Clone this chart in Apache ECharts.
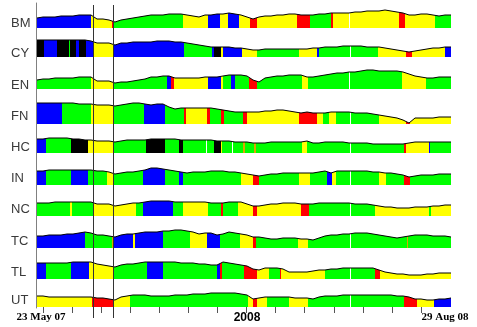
<!DOCTYPE html>
<html>
<head>
<meta charset="utf-8">
<script src="https://cdn.jsdelivr.net/npm/echarts@6/dist/echarts.min.js"></script>
<style>
  html, body { margin: 0; padding: 0; background: #fff; }
  #chart { width: 477px; height: 327px; }
</style>
</head>
<body>
<div id="chart"></div>
<script>
// rows, top to bottom
const rowNames = ['BM', 'CY', 'EN', 'FN', 'HC', 'IN', 'NC', 'TC', 'TL', 'UT'];

// sample index along the time axis (23 May 07 .. 29 Aug 08)
const sampleT = [0, 6, 12, 18, 24, 30, 36, 42, 48, 54, 60, 66, 72, 78, 84, 90, 96, 102, 108, 114,
  120, 126, 132, 138, 144, 150, 156, 162, 168, 174, 180, 186, 192, 198, 204, 210, 216, 222, 228, 234,
  240, 246, 252, 258, 264, 270, 276, 282, 288, 294, 300, 306, 312, 318, 324, 330, 336, 342, 348, 354,
  360, 366, 372, 378, 384, 390, 396, 402, 408, 414];

// level of each row (height of the black line above its band floor)
const levelBM = [10,11,11,11,12,12,12,13,13,13, 9,9,8,6,8,9,10,11,12,13, 13,13,14,14,14,13,12,11,13,13, 14,14,15,14,13,11,9,11,12,12, 13,13,14,14,13,13,13,14,14,15, 15,15,15,16,16,17,17,17,18,17, 16,15,13,13,14,14,13,12,13,13];
const levelCY = [17,17,17,17,17,17,17,17,17,16, 14,14,14,12,14,14,15,15,15,15, 16,16,16,15,15,14,13,12,11,10, 10,10,10,9,9,8,7,7,8,8, 8,8,8,8,8,8,9,9,10,10, 10,11,11,11,11,10,10,10,9,8, 7,6,5,6,7,8,9,9,10,10];
const levelEN = [9,10,10,11,11,11,11,12,12,12, 8,8,8,6,7,7,8,9,10,12, 12,13,13,11,11,11,11,11,12,12, 12,13,14,14,14,13,9,7,11,12, 13,13,14,14,14,12,12,13,14,15, 16,16,17,17,18,19,19,18,18,18, 18,17,15,13,12,11,11,12,12,12];
const levelFN = [21,21,21,21,21,21,21,20,20,20, 19,19,19,18,19,20,21,21,20,19, 20,20,17,15,16,16,16,16,16,16, 15,14,13,12,12,12,12,12,13,13, 14,14,13,12,11,12,11,11,11,12, 12,12,12,11,11,11,10,9,8,7, 6,4,1,6,6,6,6,7,7,7];
const levelHC = [14,14,15,15,15,15,14,14,13,13, 12,12,12,11,12,13,13,13,13,14, 14,14,14,14,13,13,13,13,13,13, 12,12,12,11,11,11,10,10,10,11, 11,11,11,11,11,12,10,10,11,11, 11,11,10,10,10,10,9,9,9,9, 9,9,10,11,11,11,11,11,11,11];
const levelIN = [14,14,15,15,15,15,15,15,15,15, 14,14,13,11,12,13,13,14,15,17, 17,16,15,14,13,12,13,13,13,14, 14,14,13,13,12,11,10,9,10,11, 11,12,12,12,12,12,12,13,14,12, 14,14,14,14,14,14,13,13,12,12, 11,10,8,9,10,10,10,11,11,11];
const levelNC = [13,13,13,14,14,14,14,14,14,14, 12,12,12,10,11,12,13,13,14,15, 15,15,15,14,14,14,14,14,14,13, 13,13,14,14,14,12,10,10,11,12, 12,13,13,13,12,12,12,13,13,13, 13,13,13,12,12,12,11,10,9,9, 8,8,8,9,9,9,10,10,11,11];
const levelTC = [12,12,13,13,13,14,14,15,16,15, 13,13,12,11,13,14,14,15,16,16, 16,17,17,18,18,17,16,14,15,15, 13,14,16,15,14,13,11,11,10,9, 9,10,10,10,9,9,8,10,12,13, 13,14,14,15,15,15,14,13,12,11, 10,11,12,13,13,13,12,12,12,11];
const levelTL = [16,16,16,16,16,16,17,17,17,17, 15,14,13,12,14,15,15,16,17,17, 17,17,17,17,16,16,16,15,15,14, 14,17,16,15,14,13,10,9,11,11, 11,10,7,7,7,7,8,9,9,10, 10,11,11,11,11,11,11,9,7,6, 5,5,4,4,4,5,5,6,6,6];
const levelUT = [11,11,10,10,10,10,10,10,10,10, 9,9,8,7,10,11,12,12,12,11, 11,11,11,12,12,12,13,13,13,14, 14,14,14,14,13,12,8,9,10,10, 10,10,10,9,9,9,8,10,11,11, 11,12,12,12,12,12,12,12,12,12, 11,11,10,8,8,7,7,8,8,9];

// state segments: [start index, state]; each runs to the next start
const segBM = [[0,'B'],[54,'Y'],[75,'R'],[77,'G'],[146,'Y'],[171,'B'],[183,'Y'],[191,'B'],[202,'Y'],[213,'R'],[220,'Y'],[260,'R'],[273,'G'],[294,'R'],[296,'Y'],[312,'W'],[313,'Y'],[362,'R'],[368,'Y'],[398,'G']];
const segCY = [[0,'K'],[7,'B'],[20,'K'],[32,'G'],[33,'K'],[39,'B'],[42,'K'],[49,'B'],[56,'Y'],[76,'B'],[147,'G'],[175,'B'],[177,'K'],[184,'Y'],[186,'B'],[205,'Y'],[220,'G'],[262,'Y'],[280,'B'],[282,'G'],[313,'W'],[314,'G'],[341,'Y'],[369,'R'],[375,'Y'],[408,'B']];
const segEN = [[0,'G'],[54,'Y'],[76,'G'],[130,'B'],[134,'R'],[137,'Y'],[171,'B'],[184,'Y'],[186,'G'],[194,'B'],[198,'G'],[212,'R'],[220,'G'],[265,'Y'],[271,'G'],[312,'W'],[313,'G'],[365,'Y'],[389,'G']];
const segFN = [[0,'B'],[25,'G'],[54,'Y'],[76,'G'],[107,'B'],[128,'G'],[147,'R'],[149,'Y'],[170,'R'],[173,'G'],[184,'R'],[187,'G'],[206,'R'],[210,'Y'],[262,'R'],[280,'Y'],[286,'G'],[292,'Y'],[299,'G'],[313,'W'],[314,'G'],[342,'Y'],[369,'R'],[373,'Y']];
const segHC = [[0,'B'],[9,'G'],[34,'K'],[51,'Y'],[76,'G'],[109,'K'],[128,'G'],[142,'K'],[146,'G'],[169,'W'],[170,'G'],[177,'K'],[184,'Y'],[185,'G'],[195,'W'],[196,'G'],[206,'O'],[208,'G'],[217,'O'],[219,'G'],[265,'Y'],[270,'G'],[313,'W'],[314,'G'],[367,'R'],[369,'Y'],[392,'B'],[393,'G']];
const segIN = [[0,'B'],[9,'G'],[34,'B'],[51,'G'],[70,'Y'],[76,'G'],[106,'B'],[128,'G'],[142,'B'],[146,'G'],[204,'Y'],[216,'R'],[222,'G'],[262,'Y'],[273,'G'],[290,'B'],[295,'Y'],[299,'G'],[313,'W'],[314,'G'],[342,'Y'],[349,'G'],[367,'R'],[373,'G']];
const segNC = [[0,'G'],[33,'Y'],[35,'G'],[56,'Y'],[99,'G'],[106,'B'],[136,'G'],[146,'Y'],[171,'G'],[184,'R'],[186,'G'],[201,'Y'],[216,'R'],[220,'Y'],[264,'R'],[272,'G'],[313,'W'],[314,'G'],[338,'Y'],[392,'G'],[394,'Y']];
const segTC = [[0,'B'],[48,'G'],[75,'O'],[76,'B'],[96,'Y'],[98,'B'],[126,'G'],[153,'Y'],[170,'B'],[183,'G'],[203,'Y'],[216,'R'],[219,'G'],[261,'Y'],[271,'G'],[313,'W'],[314,'G'],[370,'O'],[371,'G']];
const segTL = [[0,'B'],[9,'G'],[34,'B'],[52,'Y'],[76,'G'],[110,'B'],[126,'G'],[180,'B'],[183,'R'],[185,'G'],[207,'R'],[220,'Y'],[232,'G'],[243,'R'],[244,'Y'],[288,'G'],[313,'W'],[314,'G'],[338,'R'],[343,'Y']];
const segUT = [[0,'Y'],[55,'R'],[76,'Y'],[93,'G'],[211,'Y'],[216,'R'],[220,'Y'],[230,'G'],[252,'Y'],[271,'G'],[313,'W'],[314,'G'],[367,'R'],[380,'Y'],[397,'B']];

// the two event markers and the time axis
const markerT = [56, 76];
const tickMonths = [0, 1, 2, 3, 4, 5, 6, 7, 8, 9, 10, 11, 12, 13];
const tickLabelT = [4, 210, 408];
const tickLabels = ['23 May 07', '2008', '29 Aug 08'];

const levels = [levelBM, levelCY, levelEN, levelFN, levelHC, levelIN, levelNC, levelTC, levelTL, levelUT];
const segments = [segBM, segCY, segEN, segFN, segHC, segIN, segNC, segTC, segTL, segUT];
const palette = { B: '#0000ff', G: '#00ff00', Y: '#ffff00', R: '#ff0000', K: '#000000', W: '#ffffff', O: '#d8a800' };

// layout (pixels)
const rowBottom = [28, 57, 89, 124, 153, 185, 216, 248, 279, 307];
const labelY = [23, 53, 85, 116, 147, 178, 209, 241, 272, 300];
const BAND = 22, LEFT = 37, RIGHT = 26, T_MAX = 414;

const chart = echarts.init(document.getElementById('chart'));
const grid = [], xAxis = [], yAxis = [], series = [], visualMap = [];

rowNames.forEach((name, i) => {
  const last = i === rowNames.length - 1;
  grid.push({ left: LEFT, right: RIGHT, top: rowBottom[i] - BAND, height: BAND });
  xAxis.push({
    type: 'value', gridIndex: i, min: 0, max: T_MAX, show: last,
    splitLine: { show: false },
    axisLine: { show: false },
    axisTick: { show: false },
    axisLabel: {
      show: true, customValues: tickLabelT, margin: 5,
      formatter: v => {
        const txt = tickLabels[tickLabelT.indexOf(v)];
        return txt === '2008' ? '{y|' + txt + '}' : '{d|' + txt + '}';
      },
      rich: {
        d: { fontFamily: 'Liberation Serif', fontWeight: 'bold', fontSize: 11, color: '#000' },
        y: { fontFamily: 'Liberation Sans', fontWeight: 'bold', fontSize: 12, color: '#000' }
      }
    }
  });
  yAxis.push({ type: 'value', gridIndex: i, min: 0, max: BAND, show: false, splitLine: { show: false } });
  series.push({
    type: 'line', xAxisIndex: i, yAxisIndex: i,
    data: sampleT.map((t, k) => [t, levels[i][k]]),
    symbol: 'none', showSymbol: false, silent: true,
    lineStyle: { color: '#000', width: 1 },
    areaStyle: { opacity: 1 }
  });
  const seg = segments[i];
  visualMap.push({
    type: 'piecewise', show: false, dimension: 0, seriesIndex: i,
    pieces: seg.map((s, k) => ({
      gte: s[0],
      lt: k + 1 < seg.length ? seg[k + 1][0] : T_MAX + 10,
      color: palette[s[1]]
    }))
  });
});

// left frame line
grid.push({ left: LEFT - 1, right: RIGHT, top: 3, bottom: 19 });
xAxis.push({ type: 'value', gridIndex: 10, min: 0, max: T_MAX, show: false });
yAxis.push({
  type: 'value', gridIndex: 10, min: 0, max: 1,
  axisLine: { show: true, lineStyle: { color: '#808080' } },
  axisTick: { show: false }, axisLabel: { show: false }, splitLine: { show: false }
});
// event markers
grid.push({ left: LEFT, right: RIGHT, top: 5, bottom: 9 });
xAxis.push({ type: 'value', gridIndex: 11, min: 0, max: T_MAX, show: false });
yAxis.push({ type: 'value', gridIndex: 11, min: 0, max: 1, show: false });
series.push({
  type: 'line', xAxisIndex: 11, yAxisIndex: 11, data: [[0, 0]],
  symbol: 'none', lineStyle: { opacity: 0 }, silent: true,
  markLine: {
    symbol: 'none', silent: true, label: { show: false },
    lineStyle: { color: '#333', width: 1, type: 'solid' },
    data: markerT.map(t => ({ xAxis: t }))
  }
});
// monthly ticks under the bottom row (month index scale)
grid.push({ left: 43, right: 56, top: 307, bottom: 14 });
xAxis.push({ type: 'value', gridIndex: 12, min: 0, max: 13, show: false });
yAxis.push({ type: 'value', gridIndex: 12, min: 0, max: 1, show: false });
series.push({
  type: 'line', xAxisIndex: 12, yAxisIndex: 12, data: [[0, 0]], z: 20,
  symbol: 'none', lineStyle: { opacity: 0 }, silent: true,
  markLine: {
    symbol: 'none', silent: true, label: { show: false },
    lineStyle: { color: '#555', width: 1, type: 'solid' },
    data: tickMonths.map(m => ({ xAxis: m }))
  }
});

chart.setOption({
  animation: false,
  backgroundColor: '#fff',
  grid, xAxis, yAxis, series, visualMap,
  graphic: rowNames.map((name, i) => ({
    type: 'text', x: 11, y: labelY[i],
    style: { text: name, fontFamily: 'Liberation Sans', fontSize: 13, fill: '#3a3a3a', verticalAlign: 'middle' }
  }))
});
</script>
</body>
</html>
